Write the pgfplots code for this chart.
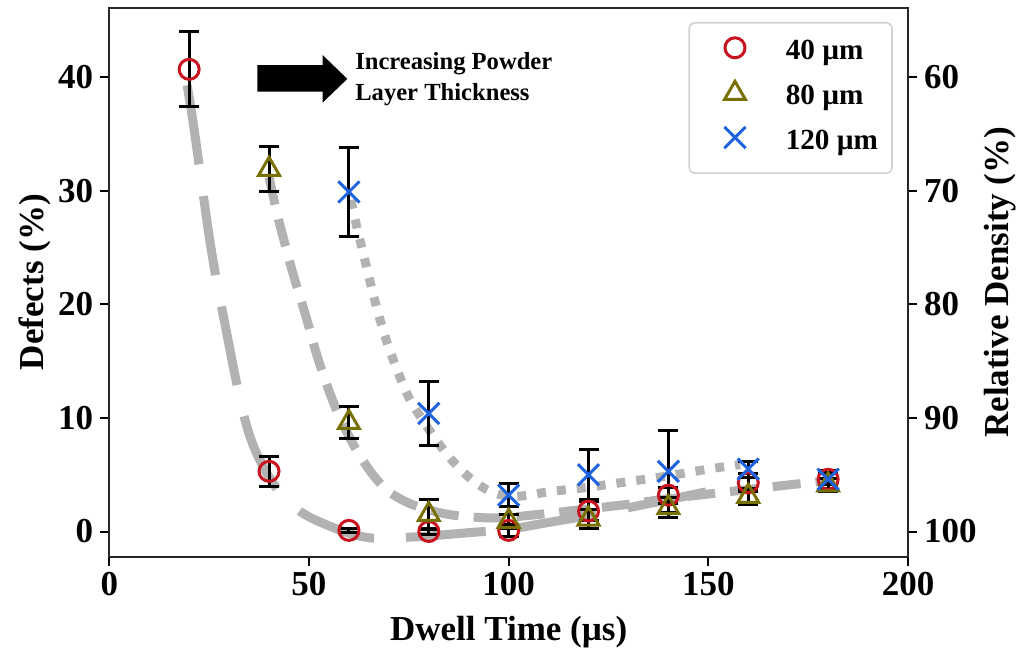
\documentclass[border=0pt]{standalone}
\usepackage{pgfplots}
\pgfplotsset{compat=1.18}
\usepackage{pgfplotstable}
\usepackage{fontspec}
\setmainfont{Liberation Serif}
\definecolor{cred}{RGB}{200,20,30}
\definecolor{colive}{RGB}{120,112,0}
\definecolor{cblue}{RGB}{30,100,225}
\definecolor{cgray}{RGB}{178,178,178}

\pgfplotstableread{
x y e
20 40.7 3.3
40 5.3 1.35
60 0.1 0.2
80 0.0 0.25
100 0.1 0.5
120 1.8 0.8
140 3.2 0.7
160 4.3 0.8
180 4.6 0.5
}\tabA
\pgfplotstableread{
x y e
40 31.9 2.0
60 9.6 1.4
80 1.5 1.3
100 0.9 0.6
120 1.1 0.8
140 2.1 0.9
160 3.1 0.7
180 4.1 0.6
}\tabB
\pgfplotstableread{
x y e
60 29.9 3.9
80 10.4 2.8
100 3.2 1.0
120 5.0 2.2
140 5.3 3.6
160 5.5 0.7
180 4.6 0.8
}\tabC

\begin{document}
\begin{tikzpicture}
\begin{axis}[
  name=ax,
  scale only axis, width=399.35pt, height=274.25pt,
  xmin=0, xmax=200, ymin=-2.2, ymax=46.1,
  xtick={0,50,100,150,200}, ytick={0,10,20,30,40},
  xtick pos=bottom, ytick pos=left,
  tick align=outside, major tick length=4.5pt,
  tick style={black, line width=1pt},
  axis line style={black!85, line width=1pt},
  /pgf/number format/assume math mode=true,
  ticklabel style={font=\fontsize{17.5}{20}\selectfont\bfseries},
  xlabel={Dwell Time (µs)}, ylabel={Defects (\%)},
  every axis x label/.style={at={(axis description cs:0.5,0)}, yshift=-37.75pt, anchor=center, font=\fontsize{17.5}{20}\selectfont\bfseries},
  every axis y label/.style={at={(axis description cs:0,0.5)}, xshift=-37.2pt, rotate=90, anchor=center, font=\fontsize{17.5}{20}\selectfont\bfseries},
  legend style={at={(rel axis cs:0.981,0.9745)}, anchor=north east, draw=black!18, line width=0.8pt,
    rounded corners=3pt, fill=white, font=\fontsize{14.6}{18}\selectfont\bfseries,
    inner xsep=5pt, inner ysep=7.5pt, row sep=6.5pt,
    nodes={inner sep=2pt, text height=0.75em, text depth=0.25em}},
  legend cell align=left,
  legend image code/.code={\path (0pt,0pt) (40.5pt,0pt); \draw[#1] plot coordinates {(17.5pt,0.33em)};},
  error bars/y dir=both, error bars/y explicit,
  error bars/error bar style={black, line width=1.5pt},
  error bars/error mark options={black, line width=1.5pt, mark size=5pt, rotate=90},
]
% fitted trend curves
\addplot[forget plot, cgray, line width=4.5pt, line cap=butt, dash pattern=on 40pt off 16pt, smooth, tension=0.5] coordinates {
(19.5,39.3) (21,36) (23,31) (25,26) (27,21.8) (29,18.2) (31,14.6) (33,11.2) (35,8.6) (37,6.8) (40,4.8) (43,3.3) (46,2.2) (50,1.3) (55,0.5) (60,-0.15) (65,-0.55) (70,-0.6) (75,-0.5) (80,-0.4) (90,-0.1) (100,0.2) (110,0.8) (120,1.4) (130,2.1) (140,2.8) (149.5,3.5)};
\addplot[forget plot, cgray, line width=4.5pt, line cap=butt, dash pattern=on 14pt off 7.5pt, smooth, tension=0.5] coordinates {
(40,31.2) (42,28.0) (44,25.3) (46,22.7) (48,20.4) (50,18.0) (52,15.5) (55,12.4) (58,9.8) (62,7.1) (66,5.0) (70,3.5) (75,2.5) (80,1.9) (85,1.5) (90,1.3) (95,1.2) (100,1.25) (110,1.6) (120,2.0) (130,2.4) (140,2.9) (150,3.3) (160,3.7) (170,4.1) (181,4.5)};
\addplot[forget plot, cgray, line width=4.5pt, line cap=butt, dash pattern=on 4.5pt off 5.5pt, smooth, tension=0.5] coordinates {
(60.5,29.2) (62,26.8) (64,23.9) (66,21.0) (68,18.4) (70,16.2) (72,14.3) (75,11.8) (80,9.0) (85,6.6) (90,4.8) (95,3.6) (100,3.1) (105,3.2) (110,3.5) (120,3.9) (130,4.4) (140,4.9) (150,5.5) (158,5.9)};
% data
\addplot[only marks, mark=o, mark size=5pt, mark options={cred, line width=1.5pt}] table[x=x, y=y, y error=e] {\tabA};
\addlegendentry{40 µm}
\addplot[only marks, mark=triangle, mark size=6pt, mark options={colive, line width=1.5pt}] table[x=x, y=y, y error=e] {\tabB};
\addlegendentry{80 µm}
\addplot[only marks, mark=x, mark size=7.5pt, mark options={cblue, line width=1.5pt}] table[x=x, y=y, y error=e] {\tabC};
\addlegendentry{120 µm}
% annotation arrow
\fill[black] (axis cs:37.1,41.08) -- (axis cs:53.4,41.08) -- (axis cs:53.4,41.96) -- (axis cs:59.6,39.86) -- (axis cs:53.4,37.76) -- (axis cs:53.4,38.73) -- (axis cs:37.1,38.73) -- cycle;
\node[anchor=west, align=left, inner sep=0pt, font=\fontsize{12.3}{15.5}\selectfont\bfseries] at (axis cs:61.5,39.8) {Increasing Powder\\Layer Thickness};
\end{axis}
\begin{axis}[
  scale only axis, width=399.35pt, height=274.25pt,
  xmin=0, xmax=200, ymin=53.9, ymax=102.2, y dir=reverse,
  axis x line=none, axis y line*=right,
  ytick={60,70,80,90,100}, ytick pos=right,
  tick align=outside, major tick length=4.5pt,
  tick style={black, line width=1pt},
  axis line style={black!85, line width=1pt},
  /pgf/number format/assume math mode=true,
  ticklabel style={font=\fontsize{17.5}{20}\selectfont\bfseries},
  ylabel={Relative Density (\%)},
  every axis y label/.style={at={(axis description cs:1,0.5)}, xshift=46pt, rotate=90, anchor=center, font=\fontsize{17.5}{20}\selectfont\bfseries},
]
\addplot[draw=none, forget plot] coordinates {(0,60) (200,100)};
\end{axis}
\pgfresetboundingbox
\path ([shift={(-54.65pt,-46.25pt)}]ax.south west) rectangle ([shift={(456.85pt,278.25pt)}]ax.south west);
\end{tikzpicture}
\end{document}
